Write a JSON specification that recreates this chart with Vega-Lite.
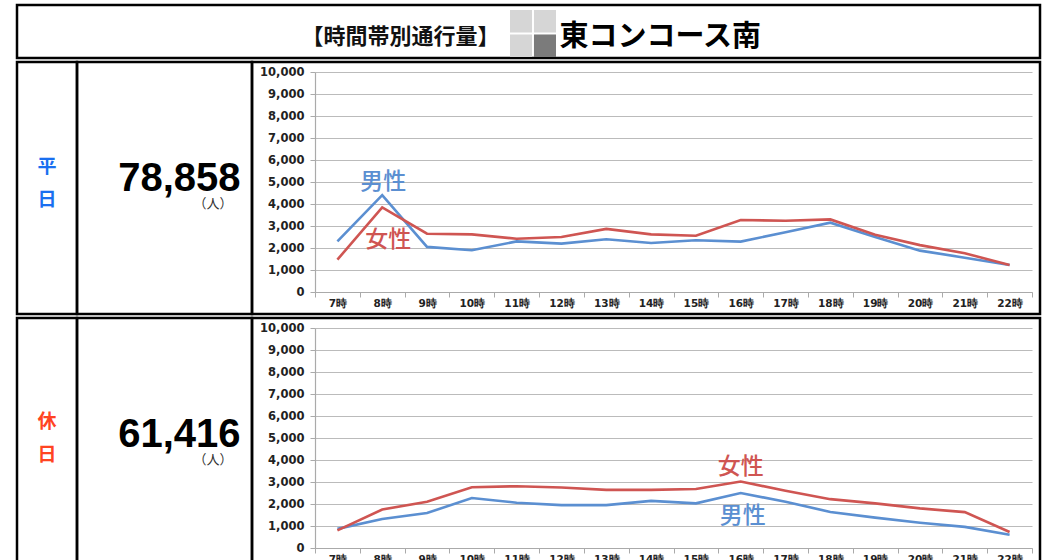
{
  "$schema": "https://vega.github.io/schema/vega-lite/v6.json",
  "background": "white",
  "padding": {"left": 15, "top": 3, "right": 6, "bottom": 0},
  "spacing": 0,
  "config": {
    "view": {"stroke": "#000000", "strokeWidth": 2.5},
    "concat": {"spacing": 0},
    "text": {"font": "Noto Sans CJK JP"}
  },
  "datasets": {
    "weekday": [
      {"hour": "7時", "sex": "男性", "value": 2300}, {"hour": "8時", "sex": "男性", "value": 4400}, {"hour": "9時", "sex": "男性", "value": 2050}, {"hour": "10時", "sex": "男性", "value": 1900},
      {"hour": "11時", "sex": "男性", "value": 2300}, {"hour": "12時", "sex": "男性", "value": 2200}, {"hour": "13時", "sex": "男性", "value": 2400}, {"hour": "14時", "sex": "男性", "value": 2230},
      {"hour": "15時", "sex": "男性", "value": 2350}, {"hour": "16時", "sex": "男性", "value": 2290}, {"hour": "17時", "sex": "男性", "value": 2720}, {"hour": "18時", "sex": "男性", "value": 3150},
      {"hour": "19時", "sex": "男性", "value": 2500}, {"hour": "20時", "sex": "男性", "value": 1880}, {"hour": "21時", "sex": "男性", "value": 1560}, {"hour": "22時", "sex": "男性", "value": 1230},
      {"hour": "7時", "sex": "女性", "value": 1470}, {"hour": "8時", "sex": "女性", "value": 3850}, {"hour": "9時", "sex": "女性", "value": 2650}, {"hour": "10時", "sex": "女性", "value": 2620},
      {"hour": "11時", "sex": "女性", "value": 2420}, {"hour": "12時", "sex": "女性", "value": 2500}, {"hour": "13時", "sex": "女性", "value": 2870}, {"hour": "14時", "sex": "女性", "value": 2620},
      {"hour": "15時", "sex": "女性", "value": 2560}, {"hour": "16時", "sex": "女性", "value": 3270}, {"hour": "17時", "sex": "女性", "value": 3240}, {"hour": "18時", "sex": "女性", "value": 3300},
      {"hour": "19時", "sex": "女性", "value": 2600}, {"hour": "20時", "sex": "女性", "value": 2130}, {"hour": "21時", "sex": "女性", "value": 1760}, {"hour": "22時", "sex": "女性", "value": 1230}
    ],
    "holiday": [
      {"hour": "7時", "sex": "男性", "value": 870}, {"hour": "8時", "sex": "男性", "value": 1320}, {"hour": "9時", "sex": "男性", "value": 1590}, {"hour": "10時", "sex": "男性", "value": 2270},
      {"hour": "11時", "sex": "男性", "value": 2060}, {"hour": "12時", "sex": "男性", "value": 1950}, {"hour": "13時", "sex": "男性", "value": 1950}, {"hour": "14時", "sex": "男性", "value": 2140},
      {"hour": "15時", "sex": "男性", "value": 2030}, {"hour": "16時", "sex": "男性", "value": 2500}, {"hour": "17時", "sex": "男性", "value": 2100}, {"hour": "18時", "sex": "男性", "value": 1640},
      {"hour": "19時", "sex": "男性", "value": 1380}, {"hour": "20時", "sex": "男性", "value": 1150}, {"hour": "21時", "sex": "男性", "value": 960}, {"hour": "22時", "sex": "男性", "value": 600},
      {"hour": "7時", "sex": "女性", "value": 800}, {"hour": "8時", "sex": "女性", "value": 1750}, {"hour": "9時", "sex": "女性", "value": 2100}, {"hour": "10時", "sex": "女性", "value": 2760},
      {"hour": "11時", "sex": "女性", "value": 2810}, {"hour": "12時", "sex": "女性", "value": 2750}, {"hour": "13時", "sex": "女性", "value": 2640}, {"hour": "14時", "sex": "女性", "value": 2640},
      {"hour": "15時", "sex": "女性", "value": 2680}, {"hour": "16時", "sex": "女性", "value": 3020}, {"hour": "17時", "sex": "女性", "value": 2600}, {"hour": "18時", "sex": "女性", "value": 2220},
      {"hour": "19時", "sex": "女性", "value": 2030}, {"hour": "20時", "sex": "女性", "value": 1800}, {"hour": "21時", "sex": "女性", "value": 1630}, {"hour": "22時", "sex": "女性", "value": 730}
    ]
  },
  "vconcat": [
    {
      "width": 1023,
      "height": 53,
      "data": {"values": [{"a": "【時間帯別通行量】", "b": "東コンコース南"}]},
      "layer": [
        {"mark": {"type": "text", "align": "right", "baseline": "middle", "font": "Noto Sans CJK JP", "fontSize": 22, "fontWeight": "bold", "color": "#111111", "dx": -29, "dy": 5}, "encoding": {"text": {"field": "a"}}},
        {"mark": {"type": "text", "align": "left", "baseline": "middle", "font": "Noto Sans CJK JP", "fontSize": 29, "fontWeight": "bold", "color": "#000000", "dx": 31, "dy": 5}, "encoding": {"text": {"field": "b"}}},
        {
          "data": {"values": [{"c": 0, "r": 0, "s": "l"}, {"c": 1, "r": 0, "s": "l"}, {"c": 0, "r": 1, "s": "l"}, {"c": 1, "r": 1, "s": "d"}]},
          "mark": {"type": "rect"},
          "encoding": {
            "x": {"field": "c", "type": "ordinal", "scale": {"range": [493, 539], "paddingInner": 0.08, "paddingOuter": 0}, "axis": null},
            "y": {"field": "r", "type": "ordinal", "scale": {"range": [5, 52], "paddingInner": 0.08, "paddingOuter": 0}, "axis": null},
            "fill": {"field": "s", "type": "nominal", "scale": {"domain": ["l", "d"], "range": ["#d6d6d6", "#7b7b7b"]}, "legend": null}
          }
        }
      ]
    },
    {
      "bounds": "flush",
      "spacing": 0,
      "hconcat": [
        {
          "width": 60, "height": 252,
          "view": {"stroke": "#000000", "strokeWidth": 2.5},
          "data": {"values": [{"t": "平\n日"}]},
          "mark": {"type": "text", "lineBreak": "\n", "lineHeight": 33, "baseline": "middle", "font": "Noto Sans CJK JP", "fontSize": 19, "fontWeight": "bold", "color": "#1a6ff0", "dy": -21},
          "encoding": {"text": {"field": "t"}}
        },
        {
          "width": 175, "height": 252,
          "view": {"stroke": "#000000", "strokeWidth": 2.5},
          "data": {"values": [{"total": 78858, "unit": "（人）"}]},
          "layer": [
            {"mark": {"type": "text", "align": "right", "baseline": "middle", "font": "Liberation Sans", "fontSize": 40, "fontWeight": "bold", "color": "#000000", "dx": 76, "dy": -9}, "encoding": {"text": {"field": "total", "type": "quantitative", "format": ","}}},
            {"mark": {"type": "text", "align": "right", "baseline": "middle", "font": "Noto Sans CJK JP", "fontSize": 13, "color": "#333333", "dx": 68, "dy": 16}, "encoding": {"text": {"field": "unit"}}}
          ]
        },
        {
          "width": 788, "height": 252,
          "encoding": {
            "x": {"field": "hour", "type": "ordinal", "bandPosition": 0.5,
              "scale": {"type": "band", "domain": ["7時", "8時", "9時", "10時", "11時", "12時", "13時", "14時", "15時", "16時", "17時", "18時", "19時", "20時", "21時", "22時"], "range": [63, 780], "paddingInner": 0, "paddingOuter": 0},
              "axis": {"title": null, "orient": "bottom", "offset": -22, "tickBand": "extent", "labelAngle": 0, "labelFont": "DejaVu Sans", "labelFontSize": 10.5, "labelFontWeight": "bold", "labelColor": "#222222", "tickColor": "#aaaaaa", "tickSize": 5, "domainColor": "#aaaaaa", "domainWidth": 1.2, "labelPadding": 1, "grid": false}},
            "y": {"field": "value", "type": "quantitative",
              "scale": {"domain": [0, 10000], "range": [230, 10]},
              "axis": {"title": null, "offset": -63, "values": [0, 1000, 2000, 3000, 4000, 5000, 6000, 7000, 8000, 9000, 10000], "tickCount": 20, "labelOverlap": false, "format": ",d", "labelFont": "DejaVu Sans", "labelFontSize": 11.5, "labelFontWeight": "bold", "labelColor": "#222222", "tickColor": "#aaaaaa", "tickSize": 5, "labelPadding": 6, "domainColor": "#aaaaaa", "domainWidth": 1.2, "grid": true, "gridColor": "#bbbbbb", "gridWidth": 1.2}}
          },
          "layer": [
            {
              "data": {"name": "weekday"},
              "mark": {"type": "line", "strokeWidth": 2.6},
              "encoding": {
                "color": {"field": "sex", "type": "nominal", "scale": {"domain": ["男性", "女性"], "range": ["#5b8fd1", "#cf5552"]}, "legend": null}
              }
            },
            {
              "data": {"values": [{"hour": "8時", "label": "男性", "value": 5000}]},
              "mark": {"type": "text", "baseline": "middle", "font": "Noto Sans CJK JP", "fontSize": 23, "fontWeight": 500, "dx": 1, "color": "#5b8fd1"},
              "encoding": {"text": {"field": "label"}}
            },
            {
              "data": {"values": [{"hour": "8時", "label": "女性", "value": 2360}]},
              "mark": {"type": "text", "baseline": "middle", "font": "Noto Sans CJK JP", "fontSize": 23, "fontWeight": 500, "dx": 6, "color": "#cf5552"},
              "encoding": {"text": {"field": "label"}}
            }
          ]
        }
      ]
    },
    {
      "bounds": "flush",
      "spacing": 0,
      "hconcat": [
        {
          "width": 60, "height": 252,
          "view": {"stroke": "#000000", "strokeWidth": 2.5},
          "data": {"values": [{"t": "休\n日"}]},
          "mark": {"type": "text", "lineBreak": "\n", "lineHeight": 33, "baseline": "middle", "font": "Noto Sans CJK JP", "fontSize": 19, "fontWeight": "bold", "color": "#ff4422", "dy": -22},
          "encoding": {"text": {"field": "t"}}
        },
        {
          "width": 175, "height": 252,
          "view": {"stroke": "#000000", "strokeWidth": 2.5},
          "data": {"values": [{"total": 61416, "unit": "（人）"}]},
          "layer": [
            {"mark": {"type": "text", "align": "right", "baseline": "middle", "font": "Liberation Sans", "fontSize": 40, "fontWeight": "bold", "color": "#000000", "dx": 76, "dy": -9}, "encoding": {"text": {"field": "total", "type": "quantitative", "format": ","}}},
            {"mark": {"type": "text", "align": "right", "baseline": "middle", "font": "Noto Sans CJK JP", "fontSize": 13, "color": "#333333", "dx": 68, "dy": 16}, "encoding": {"text": {"field": "unit"}}}
          ]
        },
        {
          "width": 788, "height": 252,
          "encoding": {
            "x": {"field": "hour", "type": "ordinal", "bandPosition": 0.5,
              "scale": {"type": "band", "domain": ["7時", "8時", "9時", "10時", "11時", "12時", "13時", "14時", "15時", "16時", "17時", "18時", "19時", "20時", "21時", "22時"], "range": [63, 780], "paddingInner": 0, "paddingOuter": 0},
              "axis": {"title": null, "orient": "bottom", "offset": -22, "tickBand": "extent", "labelAngle": 0, "labelFont": "DejaVu Sans", "labelFontSize": 10.5, "labelFontWeight": "bold", "labelColor": "#222222", "tickColor": "#aaaaaa", "tickSize": 5, "domainColor": "#aaaaaa", "domainWidth": 1.2, "labelPadding": 1, "grid": false}},
            "y": {"field": "value", "type": "quantitative",
              "scale": {"domain": [0, 10000], "range": [230, 10]},
              "axis": {"title": null, "offset": -63, "values": [0, 1000, 2000, 3000, 4000, 5000, 6000, 7000, 8000, 9000, 10000], "tickCount": 20, "labelOverlap": false, "format": ",d", "labelFont": "DejaVu Sans", "labelFontSize": 11.5, "labelFontWeight": "bold", "labelColor": "#222222", "tickColor": "#aaaaaa", "tickSize": 5, "labelPadding": 6, "domainColor": "#aaaaaa", "domainWidth": 1.2, "grid": true, "gridColor": "#bbbbbb", "gridWidth": 1.2}}
          },
          "layer": [
            {
              "data": {"name": "holiday"},
              "mark": {"type": "line", "strokeWidth": 2.6},
              "encoding": {
                "color": {"field": "sex", "type": "nominal", "scale": {"domain": ["男性", "女性"], "range": ["#5b8fd1", "#cf5552"]}, "legend": null}
              }
            },
            {
              "data": {"values": [{"hour": "16時", "label": "女性", "value": 3680}]},
              "mark": {"type": "text", "baseline": "middle", "font": "Noto Sans CJK JP", "fontSize": 23, "fontWeight": 500, "dx": 0, "color": "#cf5552"},
              "encoding": {"text": {"field": "label"}}
            },
            {
              "data": {"values": [{"hour": "16時", "label": "男性", "value": 1450}]},
              "mark": {"type": "text", "baseline": "middle", "font": "Noto Sans CJK JP", "fontSize": 23, "fontWeight": 500, "dx": 2, "color": "#5b8fd1"},
              "encoding": {"text": {"field": "label"}}
            }
          ]
        }
      ]
    }
  ]
}
